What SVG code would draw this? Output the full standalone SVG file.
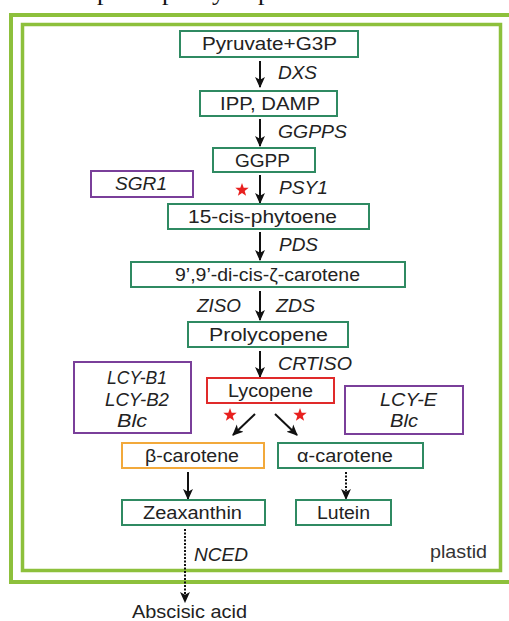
<svg xmlns="http://www.w3.org/2000/svg" width="509" height="621" viewBox="0 0 509 621">
<style>
.t{font-family:"Liberation Sans",Arial,sans-serif;font-size:17.5px;fill:#222;text-anchor:middle}
.i{font-family:"Liberation Sans",Arial,sans-serif;font-size:17.5px;fill:#222;font-style:italic}
.c{text-anchor:middle}
.g{fill:#fff;stroke:#2f8a62;stroke-width:2}
.p{fill:#fff;stroke:#7a3f9a;stroke-width:2}
.ar{stroke:#111;stroke-width:2;fill:none;marker-end:url(#ah)}
.serif{font-family:"Liberation Serif","Times New Roman",serif;font-size:26px;fill:#111}
</style>
<defs>
<marker id="ah" viewBox="0 0 10 10" refX="9" refY="5" markerWidth="5.5" markerHeight="5.5" orient="auto" markerUnits="strokeWidth">
<path d="M0,0.5 L10,5 L0,9.5 L2.5,5 Z" fill="#111"/>
</marker>
<polygon id="star" points="0,-7 1.7,-2.3 6.7,-2.2 2.7,0.9 4.1,5.7 0,2.9 -4.1,5.7 -2.7,0.9 -6.7,-2.2 -1.7,-2.3" fill="#e8201e"/>
</defs>
<rect width="509" height="621" fill="#fff"/>
<text class="serif" x="97" y="0">p</text>
<text class="serif" x="162" y="0">p</text>
<text class="serif" x="212" y="0">y</text>
<text class="serif" x="258" y="0">p</text>
<g id="frame">
<rect x="11" y="15" width="520" height="567" fill="none" stroke="#8dc03c" stroke-width="4"/>
<rect x="22.5" y="24.5" width="478" height="546" fill="none" stroke="#8dc03c" stroke-width="3.5"/>
<text x="487" y="558" textLength="57" lengthAdjust="spacingAndGlyphs" style="font-family:'Liberation Sans',Arial,sans-serif;font-size:17.5px;fill:#333;text-anchor:end">plastid</text>
</g>
<g id="connectors">
<line class="ar" x1="260" y1="61" x2="260" y2="87"/>
<line class="ar" x1="260" y1="119" x2="260" y2="146"/>
<line class="ar" x1="260" y1="175" x2="260" y2="203"/>
<line class="ar" x1="260" y1="232" x2="260" y2="260"/>
<line class="ar" x1="260" y1="291" x2="260" y2="320"/>
<line class="ar" x1="260" y1="351" x2="260" y2="377"/>
<line class="ar" x1="255" y1="414" x2="233" y2="435"/>
<line class="ar" x1="275" y1="414" x2="297" y2="435"/>
<line class="ar" x1="188" y1="472" x2="188" y2="499"/>
<line class="ar" x1="346" y1="472" x2="346" y2="499" stroke-dasharray="2 1.5"/>
<line class="ar" x1="185" y1="529" x2="185" y2="602" stroke-dasharray="2 1.5"/>
<use href="#star" x="242" y="190"/>
<use href="#star" x="230" y="415"/>
<use href="#star" x="300" y="415"/>
<text class="i" x="278" y="79" textLength="39" lengthAdjust="spacingAndGlyphs">DXS</text>
<text class="i" x="278" y="138" textLength="69" lengthAdjust="spacingAndGlyphs">GGPPS</text>
<text class="i" x="279" y="194" textLength="49" lengthAdjust="spacingAndGlyphs">PSY1</text>
<text class="i" x="279" y="251" textLength="39" lengthAdjust="spacingAndGlyphs">PDS</text>
<text class="i" x="197" y="312" textLength="44" lengthAdjust="spacingAndGlyphs">ZISO</text>
<text class="i" x="276" y="312" textLength="39" lengthAdjust="spacingAndGlyphs">ZDS</text>
<text class="i" x="278" y="370" textLength="74" lengthAdjust="spacingAndGlyphs">CRTISO</text>
<text class="i" x="194" y="561" textLength="54" lengthAdjust="spacingAndGlyphs">NCED</text>
</g>
<g id="n-pyruvate"><rect class="g" x="180" y="31" width="178" height="26"/><text class="t" x="269.5" y="50" textLength="135" lengthAdjust="spacingAndGlyphs">Pyruvate+G3P</text></g>
<g id="n-ipp"><rect class="g" x="200" y="91" width="137" height="25"/><text class="t" x="270" y="110" textLength="100" lengthAdjust="spacingAndGlyphs">IPP, DAMP</text></g>
<g id="n-ggpp"><rect class="g" x="213" y="148" width="102" height="24"/><text class="t" x="262.5" y="166.5" textLength="55" lengthAdjust="spacingAndGlyphs">GGPP</text></g>
<g id="n-sgr1"><rect class="p" x="91" y="171" width="102" height="26"/><text class="i c" x="141" y="190" textLength="52" lengthAdjust="spacingAndGlyphs">SGR1</text></g>
<g id="n-phytoene"><rect class="g" x="168" y="204" width="201" height="25"/><text class="t" x="262.5" y="223" textLength="149" lengthAdjust="spacingAndGlyphs">15-cis-phytoene</text></g>
<g id="n-zcarotene"><rect class="g" x="131" y="262" width="274" height="25"/><text class="t" x="267.5" y="281" textLength="185" lengthAdjust="spacingAndGlyphs">9’,9’-di-cis-ζ-carotene</text></g>
<g id="n-prolycopene"><rect class="g" x="188" y="322" width="160" height="25"/><text class="t" x="268.5" y="341" textLength="119" lengthAdjust="spacingAndGlyphs">Prolycopene</text></g>
<g id="n-lcyb"><rect class="p" x="74" y="362" width="117" height="71"/>
<text class="i c" x="137" y="384" textLength="60" lengthAdjust="spacingAndGlyphs">LCY-B1</text>
<text class="i c" x="137" y="406" textLength="64" lengthAdjust="spacingAndGlyphs">LCY-B2</text>
<text class="i c" x="132" y="427" textLength="30" lengthAdjust="spacingAndGlyphs">Blc</text></g>
<g id="n-lycopene"><rect x="207" y="378" width="127" height="25" fill="#fff" stroke="#e02a2a" stroke-width="2"/><text class="t" x="270.5" y="397" textLength="85" lengthAdjust="spacingAndGlyphs">Lycopene</text></g>
<g id="n-lcye"><rect class="p" x="345" y="386" width="118" height="48"/>
<text class="i c" x="408.5" y="406" textLength="57" lengthAdjust="spacingAndGlyphs">LCY-E</text>
<text class="i c" x="404" y="427" textLength="28" lengthAdjust="spacingAndGlyphs">Blc</text></g>
<g id="n-bcarotene"><rect x="122" y="443" width="142" height="25" fill="#fff" stroke="#f2a93b" stroke-width="2"/><text class="t" x="192" y="462" textLength="94" lengthAdjust="spacingAndGlyphs">β-carotene</text></g>
<g id="n-acarotene"><rect class="g" x="278" y="443" width="145" height="25"/><text class="t" x="345" y="462" textLength="96" lengthAdjust="spacingAndGlyphs">α-carotene</text></g>
<g id="n-zeaxanthin"><rect class="g" x="122" y="500" width="143" height="25"/><text class="t" x="192.5" y="519" textLength="99" lengthAdjust="spacingAndGlyphs">Zeaxanthin</text></g>
<g id="n-lutein"><rect class="g" x="296" y="500" width="95" height="25"/><text class="t" x="343.5" y="519" textLength="53" lengthAdjust="spacingAndGlyphs">Lutein</text></g>
<g id="n-aba"><text class="t" x="189.5" y="618" textLength="115" lengthAdjust="spacingAndGlyphs">Abscisic acid</text></g>
</svg>
